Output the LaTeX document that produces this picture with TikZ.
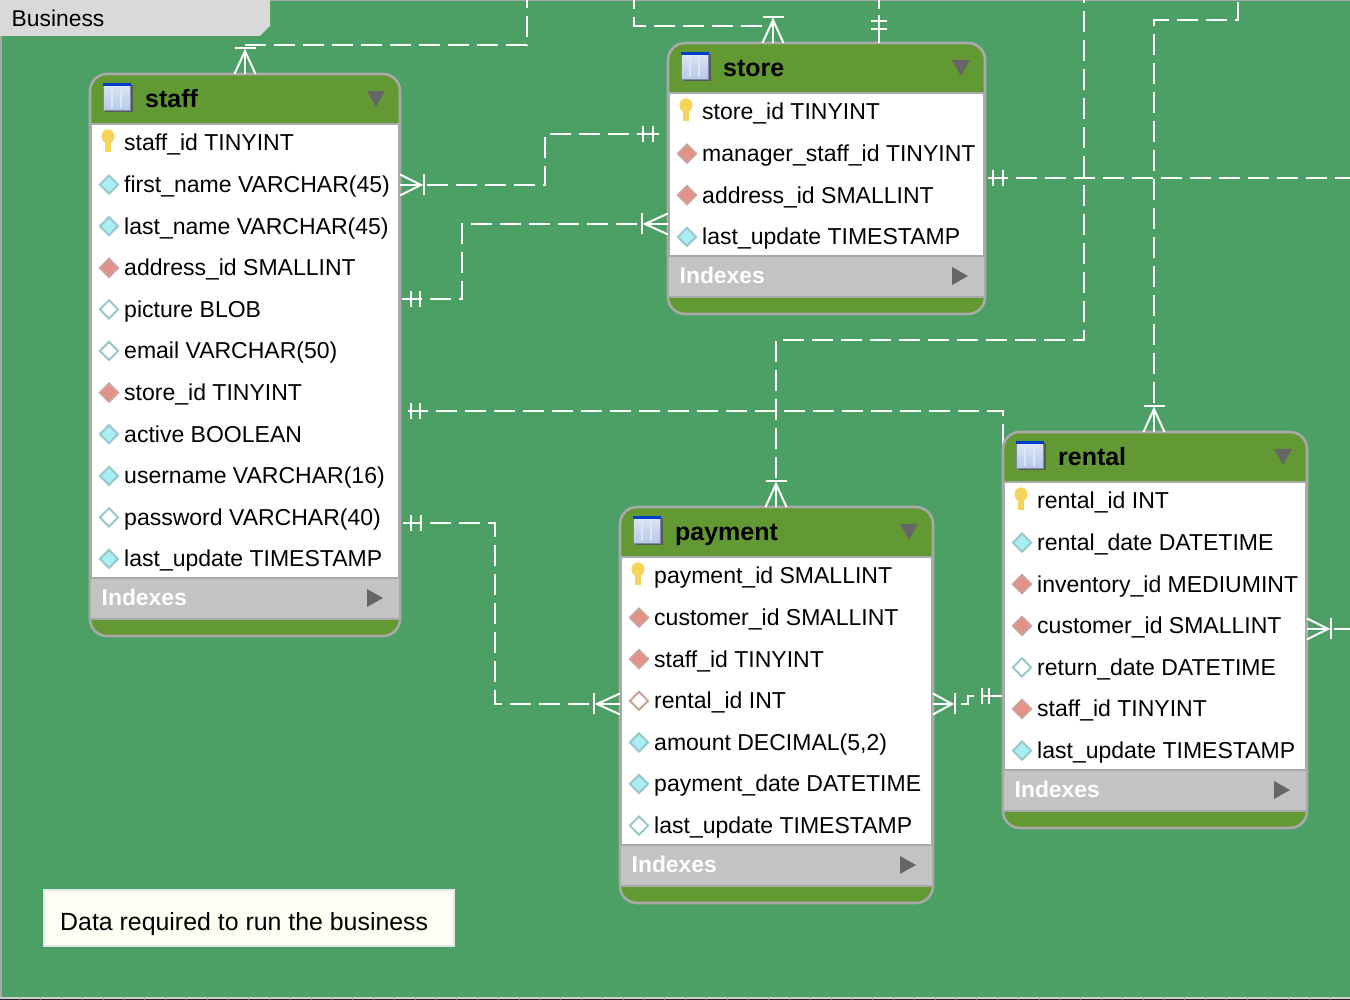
\documentclass[tikz,border=0pt]{standalone}
\usepackage{fontspec}
\setmainfont{Liberation Sans}
\usetikzlibrary{arrows.meta,positioning,shapes.geometric,calc,backgrounds}
\definecolor{canvasgreen}{HTML}{4DA065}
\definecolor{headgreen}{HTML}{629933}
\definecolor{framegray}{HTML}{A9A9A9}
\definecolor{bandgray}{HTML}{C3C3C3}
\definecolor{markgray}{HTML}{666666}
\definecolor{tabgray}{HTML}{D9D9D9}
\definecolor{notecream}{HTML}{FFFEF2}
\definecolor{keygold}{HTML}{F6D45A}
\definecolor{iconblue}{HTML}{B4C8E8}
\definecolor{colfill}{HTML}{A8EEF2}
\definecolor{coledge}{HTML}{98C8CC}
\definecolor{fkfill}{HTML}{E4918A}
\definecolor{fkedge}{HTML}{CBA29C}

\begin{document}
\begin{tikzpicture}[
      tablebox/.style={draw=framegray, line width=0.026cm, fill=headgreen,
        rounded corners=0.17cm, anchor=north west, outer sep=0pt},
      tabletitle/.style={font=\fontsize{7.1}{8}\selectfont\bfseries, anchor=west,
        text height=0.18cm, text depth=0.05cm, inner sep=0pt},
      tableicon/.style={draw=iconblue!70!black, line width=0.01cm,
        top color=iconblue!45!white, bottom color=iconblue,
        minimum size=0.27cm, inner sep=0pt, anchor=center},
      field/.style={font=\fontsize{6.55}{8}\selectfont, anchor=west,
        text height=0.17cm, text depth=0.05cm, inner sep=0pt},
      indexlabel/.style={font=\fontsize{6.5}{8}\selectfont\bfseries, text=white,
        anchor=west, inner sep=0pt},
      gem/.style={diamond, minimum size=0.19cm, inner sep=0pt, line width=0.02cm,
        preaction={draw=none, fill=black!22, transform canvas={yshift=-0.3pt}}},
      colicon/.style={gem, draw=coledge, fill=colfill},
      fkicon/.style={gem, draw=fkedge, fill=fkfill},
      nullicon/.style={gem, draw=coledge, fill=white},
      nullfk/.style={gem, draw=fkedge, fill=white},
      keystem/.style={fill=keygold, minimum width=0.055cm, minimum height=0.15cm,
        inner sep=0pt},
      keyhead/.style={ellipse, fill=keygold, minimum width=0.13cm,
        minimum height=0.14cm, inner sep=0pt},
      rel/.style={draw=white, line width=0.02cm, dash pattern=on 0.21cm off 0.08cm},
      relmark/.style={draw=white, line width=0.02cm},
      pics/crowmark/.style={code={
        \draw[relmark] (0,0.105) -- (#1-0.03,0) -- (0,-0.105);
        \draw[relmark] (0,0) -- (#1-0.03,0);
        \draw[relmark] (#1,0.105) -- (#1,-0.105);
        \coordinate (-foot) at (0.17,0);
        \coordinate (-bar) at (#1,0);
        \coordinate (-tail) at (#1+0.03,0);
      }},
      pics/onemark/.style n args={4}{code={
        \draw[relmark] (#1,0) -- (#4,0);
        \draw[relmark] (#2,0.08) -- (#2,-0.08);
        \draw[relmark] (#3,0.08) -- (#3,-0.08);
        \coordinate (-tail) at (#4,0);
      }},
    ]
    \useasboundingbox (0,0) rectangle (13.5,-10);

    % Tables
    \foreach \tname/\tx/\ty/\tw/\th/\rows in {
        staff/0.90/-0.74/3.10/5.62/{first\_name VARCHAR(45)/colicon,
          last\_name VARCHAR(45)/colicon, address\_id SMALLINT/fkicon,
          picture BLOB/nullicon, email VARCHAR(50)/nullicon,
          store\_id TINYINT/fkicon, active BOOLEAN/colicon,
          username VARCHAR(16)/colicon, password VARCHAR(40)/nullicon,
          last\_update TIMESTAMP/colicon},
        store/6.68/-0.43/3.17/2.71/{manager\_staff\_id TINYINT/fkicon,
          address\_id SMALLINT/fkicon, last\_update TIMESTAMP/colicon},
        payment/6.20/-5.07/3.13/3.96/{customer\_id SMALLINT/fkicon,
          staff\_id TINYINT/fkicon, rental\_id INT/nullfk,
          {amount DECIMAL(5,2)}/colicon, payment\_date DATETIME/colicon,
          last\_update TIMESTAMP/nullicon},
        rental/10.03/-4.32/3.04/3.96/{rental\_date DATETIME/colicon,
          inventory\_id MEDIUMINT/fkicon, customer\_id SMALLINT/fkicon,
          return\_date DATETIME/nullicon, staff\_id TINYINT/fkicon,
          last\_update TIMESTAMP/colicon}} {
      \node[tablebox, minimum width=\tw cm, minimum height=\th cm] (\tname)
        at (\tx, \ty) {};
      \filldraw[draw=framegray, line width=0.02cm, fill=white]
        ($(\tname.north west)+(0.01,-0.5)$) rectangle
        ($(\tname.south east)+(-0.01,0.58)$);
      \filldraw[draw=framegray, line width=0.026cm, fill=bandgray]
        ($(\tname.south west)+(0,0.58)$) rectangle
        ($(\tname.south east)+(0,0.17)$);
      \node[tabletitle] (\tname-title) at ($(\tname.north west)+(0.545,-0.27)$) {\tname};
      \fill[black!65] ($(\tname.north west)+(0.155,-0.115)$) rectangle ++(0.27,-0.27);
      \node[tableicon] (\tname-icon) at ($(\tname.north west)+(0.27,-0.235)$) {};
      \fill[blue!70!cyan!80!black] (\tname-icon.north west) rectangle
        ($(\tname-icon.north east)+(0,-0.03)$);
      \foreach \dx in {0.09,0.18}
        \draw[white!55!iconblue, line width=0.012cm]
          ($(\tname-icon.north west)+(\dx,-0.05)$) -- ($(\tname-icon.south west)+(\dx,0.03)$);
      \fill[markgray] ($(\tname.north east)+(-0.33,-0.17)$)
        -- ++(0.18,0) -- ++(-0.09,-0.16) -- cycle;
      \node[indexlabel] (\tname-indexes) at ($(\tname.south west)+(0.11,0.39)$) {Indexes};
      \fill[markgray] ($(\tname.south east)+(-0.33,0.47)$)
        -- ++(0,-0.18) -- ++(0.16,0.09) -- cycle;
      % primary key row
      \node[keystem] (\tname-key) at ($(\tname.north west)+(0.18,-0.705)$) {};
      \node[keyhead] at (\tname-key.north) {};
      \node[field] (\tname-pk) at ($(\tname.north west)+(0.335,-0.71)$)
        {\tname\_id \ifnum\pdfstrcmp{\tname}{rental}=0 INT\else\ifnum\pdfstrcmp{\tname}{payment}=0 SMALLINT\else TINYINT\fi\fi};
      % other rows
      \foreach \fieldtext/\kind [count=\i] in \rows {
        \node[field] (\tname-\i) at ($(\tname.north west)+(0.335,{-0.71-0.416*\i})$)
          {\fieldtext};
        \node[\kind] (\tname-\i-icon) at ($(\tname.north west)+(0.19,{-0.69-0.416*\i})$) {};
      }
    }

    % Title tab and note
    \fill[tabgray] (0,0) -- (2.7,0) -- (2.7,-0.26) -- (2.6,-0.36) -- (0,-0.36) -- cycle;
    \node[font=\fontsize{6.5}{8}\selectfont, anchor=west, inner sep=0pt] (areaname)
      at (0.11,-0.18) {Business};
    \node[draw=black!10, fill=notecream, anchor=north west, minimum width=4.1cm,
      minimum height=0.56cm, outer sep=0pt, inner sep=0pt] (notebox) at (0.44,-8.9) {};
    \node[font=\fontsize{7.08}{8}\selectfont, anchor=west, inner sep=0pt] (notetext)
      at (0.595,-9.24) {Data required to run the business};

    % Relationship ends
    \pic[rotate=90] (staffTop) at (staff.north -| 2.45,0) {crowmark=0.26};
    \pic[rotate=90] (storeTop) at (store.north -| 7.73,0) {crowmark=0.26};
    \pic[rotate=90] (storeOut) at (store.north -| 8.79,0) {onemark={0}{0.14}{0.22}{0.28}};
    \pic[rotate=90] (paymentTop) at (payment.north -| 7.76,0) {crowmark=0.26};
    \pic[rotate=90] (rentalTop) at (rental.north -| 11.54,0) {crowmark=0.26};
    \pic (staffFirst) at (staff.east |- 0,-1.85) {crowmark=0.24};
    \pic (staffAddr) at (staff.east |- 0,-2.99) {onemark={0.02}{0.11}{0.20}{0.22}};
    \pic (staffId) at (staff.east |- 0,-4.11) {onemark={0.08}{0.11}{0.20}{0.28}};
    \pic (staffPass) at (staff.east |- 0,-5.23) {onemark={0.03}{0.11}{0.21}{0.22}};
    \pic[rotate=180] (storeMgr) at (store.west |- 0,-1.34) {onemark={0.09}{0.15}{0.25}{0.28}};
    \pic[rotate=180] (storeAddr) at (store.west |- 0,-2.24) {crowmark=0.26};
    \pic (storeRight) at (store.east |- 0,-1.78) {onemark={0.03}{0.08}{0.18}{0.23}};
    \pic[rotate=180] (paymentRental) at (payment.west |- 0,-7.04) {crowmark=0.26};
    \pic (paymentStaff) at (payment.east |- 0,-7.04) {crowmark=0.22};
    \pic[rotate=180] (rentalStaff) at (rental.west |- 0,-6.96) {onemark={0.01}{0.14}{0.21}{0.21}};
    \pic (rentalOut) at (rental.east |- 0,-6.29) {crowmark=0.24};

    % Free ends and bends
    \coordinate (exitStaff) at (5.27,0);
    \coordinate (exitStore) at (6.34,0);
    \coordinate (exitPayment) at (10.84,0);
    \coordinate (exitRental) at (12.38,0);
    \coordinate (exitRight) at (13.5,-1.78);
    \coordinate (exitLoop) at (13.5,-6.29);
    \coordinate (bendPayment) at (7.76,-3.4);
    \coordinate (bendRental) at (11.54,-0.2);
    \coordinate (bendMgr) at (5.45,-1.6);
    \coordinate (bendAddr) at (4.62,-2.6);
    \coordinate (bendPass) at (4.95,-6);
    \coordinate (bendStep) at (9.68,-7);

    % Dashed connectors, behind the tables
    \begin{scope}[on background layer]
      \fill[canvasgreen] (0,0) rectangle (13.5,-10);
      \draw[framegray, line width=0.02cm] (0,0) -- (13.5,0) (0.01,0) -- (0.01,-9.97);
      \fill[black!20] (0,-9.97) rectangle (13.5,-10);
      \fill[black!85] (0,-9.993) rectangle (13.5,-10);
      \foreach \tickx in {0.2,0.408,...,13.5}
        \draw[black!45, line width=0.01cm] (\tickx,-9.98) -- (\tickx,-10);
      \draw[rel] (staffTop-tail) -| (exitStaff);
      \draw[rel, dash phase=0.18cm] (storeTop-foot) -| (exitStore);
      \draw[relmark] (storeOut-tail) ++(0,0.06) -- (8.79,0);
      \draw[rel] (paymentTop-tail) |- (bendPayment) -| (exitPayment);
      \draw[rel] (rentalTop-tail) |- (bendRental) -| (exitRental);
      \draw[rel] (staffFirst-tail) -| (bendMgr) |- (storeMgr-tail);
      \draw[rel, dash phase=0.21cm] (staffAddr-tail) -| (bendAddr) |- (storeAddr-tail);
      \draw[rel, dash phase=0.21cm] (staffId-tail) -| (rental.west);
      \draw[rel, dash phase=0.21cm] (staffPass-tail) -| (bendPass) |- (paymentRental-tail);
      \draw[rel, dash phase=0.21cm] (storeRight-tail) -- (exitRight);
      \draw[rel, dash phase=0.23cm] (paymentStaff-bar) -| (bendStep) |- (rentalStaff-tail);
      \draw[rel] (rentalOut-tail) -- (exitLoop);
    \end{scope}
  \end{tikzpicture}
\end{document}
